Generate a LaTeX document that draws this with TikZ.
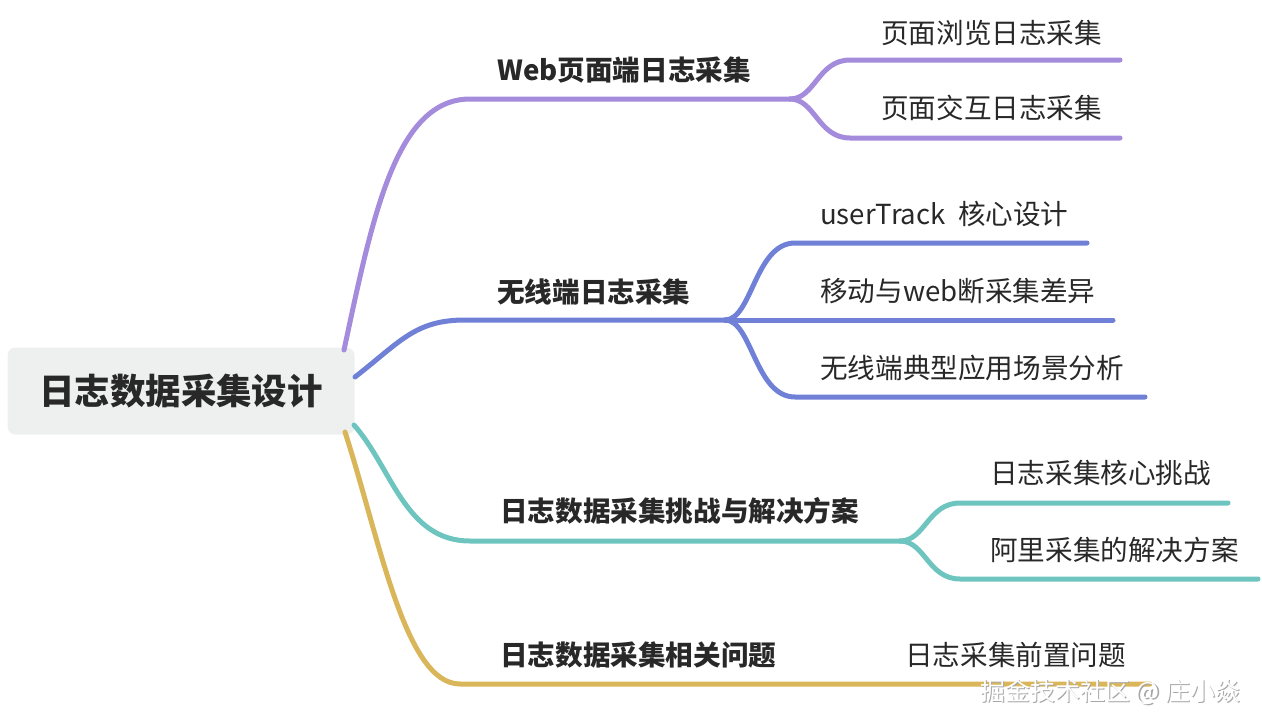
\documentclass[tikz,border=0pt]{standalone}
\usepackage{fontspec}
\setmainfont{Noto Sans CJK SC}
\usepackage{tikz}

\definecolor{webc}{RGB}{164,139,220}
\definecolor{wlc}{RGB}{111,128,214}
\definecolor{tzc}{RGB}{110,196,190}
\definecolor{wtc}{RGB}{218,182,90}
\definecolor{rootfill}{RGB}{238,240,240}
\definecolor{txt}{RGB}{40,40,40}

\begin{document}
\begin{tikzpicture}[x=1pt, y=-1pt, line cap=round,
	every node/.style={text=txt, inner sep=0pt},
	rootbox/.style={fill=rootfill, rounded corners=8pt, minimum width=347pt, minimum height=87pt, font=\fontsize{35.5}{40}\selectfont\bfseries},
	topic/.style={anchor=west, font=\fontsize{27.6}{32}\selectfont\bfseries},
	leaf/.style={anchor=west, font=\fontsize{27.6}{32}\selectfont},
	branch/.style={line width=5pt}]
	\useasboundingbox (0,0) rectangle (1262,728);
	\node[rootbox] (root) at (181,391) {日志数据采集设计};
	% topics
	\node[topic] (web) at (497,70) {Web页面端日志采集};
	\node[topic] (wl) at (497,292) {无线端日志采集};
	\node[topic] (tz) at (500,511) {日志数据采集挑战与解决方案};
	\node[topic] (wt) at (500,655) {日志数据采集相关问题};
	% leaves
	\node[leaf] (web1) at (881,33) {页面浏览日志采集};
	\node[leaf] (web2) at (881,108) {页面交互日志采集};
	\node[leaf] (wl1) at (820,214) {userTrack\ \ 核心设计};
	\node[leaf] (wl2) at (820,291) {移动与web断采集差异};
	\node[leaf] (wl3) at (820,368) {无线端典型应用场景分析};
	\node[leaf] (tz1) at (990,473) {日志采集核心挑战};
	\node[leaf] (tz2) at (990,550) {阿里采集的解决方案};
	\node[leaf] (wt1) at (905,655) {日志采集前置问题};
	% line ends
	\coordinate (r1) at (344,350); \coordinate (r2) at (355,377);
	\coordinate (r3) at (354,425); \coordinate (r4) at (345,432);
	\coordinate (webF) at (790,99); \coordinate (wlF) at (725,320);
	\coordinate (tzF) at (900,541); \coordinate (wtF) at (880,684);
	\coordinate (web1E) at (1120,60); \coordinate (web2E) at (1120,138);
	\coordinate (wl1E) at (1087,243); \coordinate (wl2E) at (1113,320); \coordinate (wl3E) at (1145,397);
	\coordinate (tz1E) at (1228,503); \coordinate (tz2E) at (1258,579);
	\coordinate (wt1E) at (1150,684);
	% branches
	\draw[branch, webc] (r1) .. controls (372,220) and (395,99) .. (470,99) -- (webF);
	\draw[branch, webc] (webF) .. controls (815,99) and (818,60) .. (850,60) -- (web1E);
	\draw[branch, webc] (webF) .. controls (815,99) and (818,138) .. (850,138) -- (web2E);
	\draw[branch, wlc] (r2) .. controls (400,342) and (415,320) .. (465,320) -- (wlF);
	\draw[branch, wlc] (wlF) .. controls (752,320) and (755,243) .. (795,243) -- (wl1E);
	\draw[branch, wlc] (wlF) -- (wl2E);
	\draw[branch, wlc] (wlF) .. controls (752,320) and (755,397) .. (795,397) -- (wl3E);
	\draw[branch, tzc] (r3) .. controls (392,468) and (405,541) .. (470,541) -- (tzF);
	\draw[branch, tzc] (tzF) .. controls (925,541) and (928,503) .. (960,503) -- (tz1E);
	\draw[branch, tzc] (tzF) .. controls (925,541) and (928,579) .. (960,579) -- (tz2E);
	\draw[branch, wtc] (r4) .. controls (380,540) and (405,684) .. (460,684) -- (wtF) -- (wt1E);
	% watermark
	\node[anchor=west, text=gray!70, font=\fontsize{25}{28}\selectfont] (markS) at (981.5,693.5) {掘金技术社区 @ 庄小焱};
	\node[anchor=west, text=white, font=\fontsize{25}{28}\selectfont] (mark) at (980,692) {掘金技术社区 @ 庄小焱};
\end{tikzpicture}
\end{document}
